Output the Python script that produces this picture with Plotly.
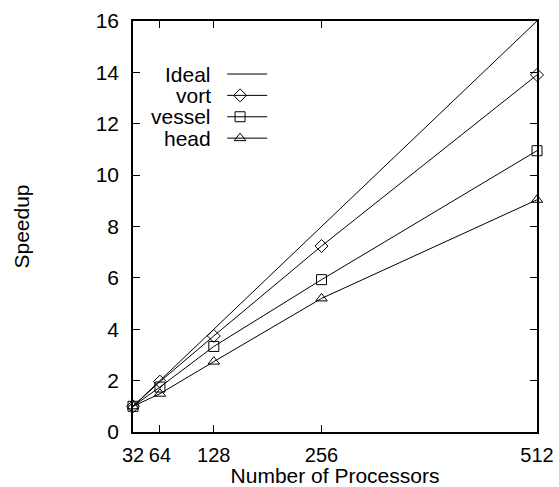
import plotly.graph_objects as go

procs = [32, 64, 128, 256, 512]
ideal = [1, 2, 4, 8, 16]
vort = [1.0, 1.96, 3.74, 7.24, 13.9]
vessel = [1.0, 1.75, 3.33, 5.93, 10.95]
head = [1.0, 1.49, 2.74, 5.2, 9.04]

series = [("Ideal", ideal, None), ("vort", vort, "diamond-open"),
          ("vessel", vessel, "square-open"), ("head", head, "triangle-up-open")]

FONT = dict(family="Liberation Sans, Arial, Helvetica, sans-serif", size=21, color="black")
TFONT = dict(family="Liberation Sans, Arial, Helvetica, sans-serif", size=20, color="black")

fig = go.Figure()
for name, ys, sym in series:
    fig.add_trace(go.Scatter(
        x=procs, y=ys, name=name,
        mode="lines" if sym is None else "lines+markers",
        line=dict(color="black", width=1),
        marker=dict(symbol=sym or "circle", size=10, color="black",
                    line=dict(color="black", width=1)),
        cliponaxis=False, showlegend=False))

# custom gnuplot-style key (text left, sample right)
key_y = [0.871, 0.819, 0.767, 0.715]
for (name, ys, sym), ky in zip(series, key_y):
    fig.add_annotation(xref="paper", yref="paper", x=0.198, y=ky, text=name,
                       showarrow=False, xanchor="right", yanchor="middle", font=FONT)
    fig.add_trace(go.Scatter(x=[0.233, 0.332], y=[ky, ky], xaxis="x2", yaxis="y2",
                             mode="lines", line=dict(color="black", width=1),
                             showlegend=False, hoverinfo="skip"))
    if sym:
        fig.add_trace(go.Scatter(x=[0.265], y=[ky], xaxis="x2", yaxis="y2",
                                 mode="markers",
                                 marker=dict(symbol=sym, size=10, color="black",
                                             line=dict(color="black", width=1)),
                                 showlegend=False, hoverinfo="skip"))

axis_common = dict(showline=True, linecolor="black", linewidth=1.5, mirror="ticks",
                   ticks="inside", ticklen=7, tickwidth=1, tickcolor="black",
                   showgrid=False, zeroline=False)

fig.update_layout(
    width=559, height=487,
    margin=dict(l=133, r=22, t=21, b=55),
    paper_bgcolor="white", plot_bgcolor="white",
    font=FONT,
    xaxis=dict(range=[32, 512], tickvals=procs, ticktext=[str(p) for p in procs],
               title=dict(text="Number of Processors", font=FONT, standoff=3),
               tickfont=TFONT,
               automargin=False, ticklabelstandoff=4, **axis_common),
    yaxis=dict(range=[0, 16], tickvals=list(range(0, 17, 2)),
               title=dict(text="Speedup", font=FONT, standoff=60),
               tickfont=FONT,
               automargin=False, ticklabelstandoff=8, **axis_common),
    xaxis2=dict(range=[0, 1], overlaying="x", visible=False, fixedrange=True),
    yaxis2=dict(range=[0, 1], overlaying="y", visible=False, fixedrange=True),
    showlegend=False,
)

fig.write_html("out.html")
